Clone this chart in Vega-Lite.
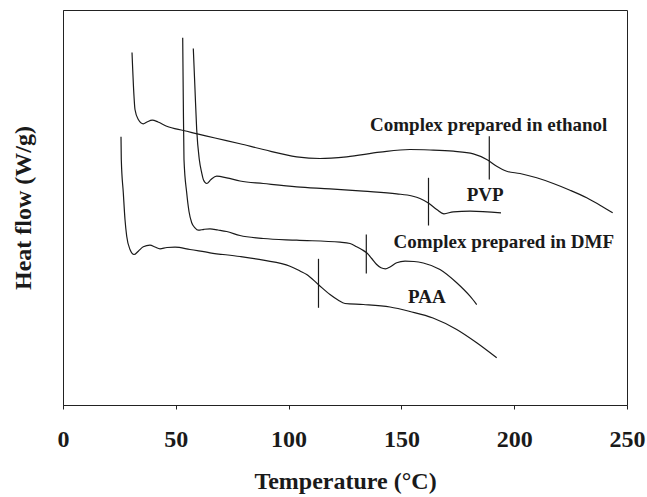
{
  "$schema": "https://vega.github.io/schema/vega-lite/v6.json",
  "width": 564,
  "height": 395,
  "autosize": {"type": "none"},
  "padding": {"left": 63, "top": 10, "right": 20, "bottom": 92},
  "background": "white",
  "config": {
    "view": {"stroke": "#222", "strokeWidth": 1},
    "font": "Liberation Serif"
  },
  "datasets": {
    "curves": [
      {"series": "ethanol", "T": 30.59, "HF": 89.24},
      {"series": "ethanol", "T": 31.47, "HF": 78.18},
      {"series": "ethanol", "T": 31.91, "HF": 74.81},
      {"series": "ethanol", "T": 33.38, "HF": 72.28},
      {"series": "ethanol", "T": 35.59, "HF": 71.19},
      {"series": "ethanol", "T": 37.23, "HF": 71.65},
      {"series": "ethanol", "T": 39.58, "HF": 72.10},
      {"series": "ethanol", "T": 42.11, "HF": 71.65},
      {"series": "ethanol", "T": 45.97, "HF": 70.58},
      {"series": "ethanol", "T": 53.32, "HF": 69.49},
      {"series": "ethanol", "T": 59.53, "HF": 68.66},
      {"series": "ethanol", "T": 67.38, "HF": 67.59},
      {"series": "ethanol", "T": 78.46, "HF": 66.13},
      {"series": "ethanol", "T": 88.79, "HF": 64.68},
      {"series": "ethanol", "T": 103.59, "HF": 62.84},
      {"series": "ethanol", "T": 113.92, "HF": 62.41},
      {"series": "ethanol", "T": 125.75, "HF": 62.84},
      {"series": "ethanol", "T": 140.51, "HF": 64.0},
      {"series": "ethanol", "T": 153.81, "HF": 64.68},
      {"series": "ethanol", "T": 162.68, "HF": 64.56},
      {"series": "ethanol", "T": 173.01, "HF": 64.25},
      {"series": "ethanol", "T": 181.87, "HF": 63.59},
      {"series": "ethanol", "T": 187.81, "HF": 62.15},
      {"series": "ethanol", "T": 192.24, "HF": 60.46},
      {"series": "ethanol", "T": 196.68, "HF": 59.19},
      {"series": "ethanol", "T": 202.57, "HF": 58.61},
      {"series": "ethanol", "T": 209.97, "HF": 57.52},
      {"series": "ethanol", "T": 217.33, "HF": 56.08},
      {"series": "ethanol", "T": 224.73, "HF": 54.38},
      {"series": "ethanol", "T": 232.14, "HF": 52.46},
      {"series": "ethanol", "T": 238.79, "HF": 50.33},
      {"series": "ethanol", "T": 243.66, "HF": 48.66},

      {"series": "PVP", "T": 57.76, "HF": 90.25},
      {"series": "PVP", "T": 58.51, "HF": 79.87},
      {"series": "PVP", "T": 59.26, "HF": 69.75},
      {"series": "PVP", "T": 60.42, "HF": 62.15},
      {"series": "PVP", "T": 61.48, "HF": 58.78},
      {"series": "PVP", "T": 62.28, "HF": 56.96},
      {"series": "PVP", "T": 63.70, "HF": 56.08},
      {"series": "PVP", "T": 65.60, "HF": 57.09},
      {"series": "PVP", "T": 68.13, "HF": 57.92},
      {"series": "PVP", "T": 72.56, "HF": 57.52},
      {"series": "PVP", "T": 78.46, "HF": 56.71},
      {"series": "PVP", "T": 88.79, "HF": 56.08},
      {"series": "PVP", "T": 103.59, "HF": 55.24},
      {"series": "PVP", "T": 118.35, "HF": 54.73},
      {"series": "PVP", "T": 133.11, "HF": 54.13},
      {"series": "PVP", "T": 147.92, "HF": 53.47},
      {"series": "PVP", "T": 154.70, "HF": 52.91},
      {"series": "PVP", "T": 158.24, "HF": 52.28},
      {"series": "PVP", "T": 161.92, "HF": 51.14},
      {"series": "PVP", "T": 165.65, "HF": 49.49},
      {"series": "PVP", "T": 168.88, "HF": 48.41},
      {"series": "PVP", "T": 173.01, "HF": 48.91},
      {"series": "PVP", "T": 180.41, "HF": 49.06},
      {"series": "PVP", "T": 194.15, "HF": 48.66},

      {"series": "DMF", "T": 53.06, "HF": 92.96},
      {"series": "DMF", "T": 53.32, "HF": 77.34},
      {"series": "DMF", "T": 53.63, "HF": 62.15},
      {"series": "DMF", "T": 54.83, "HF": 53.72},
      {"series": "DMF", "T": 55.85, "HF": 48.99},
      {"series": "DMF", "T": 57.05, "HF": 46.13},
      {"series": "DMF", "T": 58.51, "HF": 44.86},
      {"series": "DMF", "T": 59.97, "HF": 44.25},
      {"series": "DMF", "T": 62.50, "HF": 44.48},
      {"series": "DMF", "T": 65.16, "HF": 44.61},
      {"series": "DMF", "T": 68.71, "HF": 44.30},
      {"series": "DMF", "T": 72.56, "HF": 43.92},
      {"series": "DMF", "T": 78.46, "HF": 42.91},
      {"series": "DMF", "T": 88.79, "HF": 42.15},
      {"series": "DMF", "T": 103.59, "HF": 41.72},
      {"series": "DMF", "T": 122.78, "HF": 41.22},
      {"series": "DMF", "T": 127.22, "HF": 40.89},
      {"series": "DMF", "T": 130.19, "HF": 40.05},
      {"series": "DMF", "T": 132.40, "HF": 39.37},
      {"series": "DMF", "T": 134.62, "HF": 38.53},
      {"series": "DMF", "T": 136.84, "HF": 37.09},
      {"series": "DMF", "T": 139.05, "HF": 35.57},
      {"series": "DMF", "T": 140.96, "HF": 34.73},
      {"series": "DMF", "T": 142.95, "HF": 34.48},
      {"series": "DMF", "T": 144.95, "HF": 34.94},
      {"series": "DMF", "T": 147.92, "HF": 36.0},
      {"series": "DMF", "T": 151.60, "HF": 36.41},
      {"series": "DMF", "T": 155.59, "HF": 36.33},
      {"series": "DMF", "T": 159.71, "HF": 35.95},
      {"series": "DMF", "T": 167.11, "HF": 34.30},
      {"series": "DMF", "T": 174.51, "HF": 30.94},
      {"series": "DMF", "T": 180.41, "HF": 27.54},
      {"series": "DMF", "T": 183.38, "HF": 25.44},

      {"series": "PAA", "T": 25.71, "HF": 67.90},
      {"series": "PAA", "T": 25.84, "HF": 62.15},
      {"series": "PAA", "T": 26.73, "HF": 53.72},
      {"series": "PAA", "T": 27.48, "HF": 46.96},
      {"series": "PAA", "T": 28.24, "HF": 42.73},
      {"series": "PAA", "T": 29.70, "HF": 39.37},
      {"series": "PAA", "T": 31.47, "HF": 38.10},
      {"series": "PAA", "T": 33.38, "HF": 38.94},
      {"series": "PAA", "T": 35.59, "HF": 40.05},
      {"series": "PAA", "T": 38.56, "HF": 40.46},
      {"series": "PAA", "T": 40.78, "HF": 40.0},
      {"series": "PAA", "T": 43.0, "HF": 39.54},
      {"series": "PAA", "T": 46.10, "HF": 39.87},
      {"series": "PAA", "T": 49.65, "HF": 39.95},
      {"series": "PAA", "T": 56.29, "HF": 39.37},
      {"series": "PAA", "T": 65.16, "HF": 38.53},
      {"series": "PAA", "T": 78.46, "HF": 37.59},
      {"series": "PAA", "T": 88.79, "HF": 36.66},
      {"series": "PAA", "T": 100.62, "HF": 35.14},
      {"series": "PAA", "T": 105.05, "HF": 33.92},
      {"series": "PAA", "T": 108.02, "HF": 33.04},
      {"series": "PAA", "T": 113.16, "HF": 30.51},
      {"series": "PAA", "T": 118.35, "HF": 27.97},
      {"series": "PAA", "T": 121.90, "HF": 26.58},
      {"series": "PAA", "T": 125.0, "HF": 25.70},
      {"series": "PAA", "T": 133.11, "HF": 25.44},
      {"series": "PAA", "T": 144.95, "HF": 24.81},
      {"series": "PAA", "T": 153.81, "HF": 23.67},
      {"series": "PAA", "T": 164.01, "HF": 22.03},
      {"series": "PAA", "T": 174.51, "HF": 19.11},
      {"series": "PAA", "T": 183.38, "HF": 15.75},
      {"series": "PAA", "T": 192.24, "HF": 11.95}
    ],
    "markers": [
      {"series": "ethanol", "T": 188.96, "top": 68.05, "bottom": 57.09},
      {"series": "PVP", "T": 162.01, "top": 57.52, "bottom": 45.44},
      {"series": "DMF", "T": 134.44, "top": 43.16, "bottom": 33.29},
      {"series": "PAA", "T": 113.25, "top": 37.01, "bottom": 24.61}
    ],
    "labels": [
      {"label": "Complex prepared in ethanol", "T": 188.7, "HF": 69.37},
      {"label": "PVP", "T": 187.1, "HF": 51.77},
      {"label": "Complex prepared in DMF", "T": 195.4, "HF": 39.80},
      {"label": "PAA", "T": 161.3, "HF": 25.70}
    ]
  },
  "layer": [
    {
      "data": {"name": "curves"},
      "mark": {"type": "line", "interpolate": "monotone", "color": "#1a1a1a", "strokeWidth": 1.2},
      "encoding": {
        "x": {
          "field": "T", "type": "quantitative",
          "scale": {"domain": [0, 250], "nice": false},
          "axis": {
            "values": [0, 50, 100, 150, 200, 250],
            "title": "Temperature (°C)",
            "grid": false,
            "domainColor": "#222",
            "domainWidth": 1.2,
            "tickColor": "#222",
            "tickSize": 4,
            "labelPadding": 18,
            "labelFont": "Liberation Serif",
            "labelFontWeight": "bold",
            "labelFontSize": 24,
            "labelColor": "#1a1a1a",
            "labelFlush": false,
            "titleFont": "Liberation Serif",
            "titleFontWeight": "bold",
            "titleFontSize": 24,
            "titleColor": "#1a1a1a",
            "titleBaseline": "alphabetic",
            "titleY": 83
          }
        },
        "y": {
          "field": "HF", "type": "quantitative",
          "scale": {"domain": [0, 100], "nice": false},
          "axis": {
            "title": "Heat flow (W/g)",
            "labels": false,
            "ticks": false,
            "grid": false,
            "domainColor": "#222",
            "titleFont": "Liberation Serif",
            "titleFontWeight": "bold",
            "titleFontSize": 24,
            "titleColor": "#1a1a1a",
            "titleAngle": -90,
            "titleBaseline": "middle",
            "titleAlign": "center",
            "titleX": -40,
            "titleY": 197.5
          }
        },
        "detail": {"field": "series"}
      }
    },
    {
      "data": {"name": "markers"},
      "mark": {"type": "rule", "color": "#1a1a1a", "strokeWidth": 1.2},
      "encoding": {
        "x": {"field": "T", "type": "quantitative"},
        "y": {"field": "top", "type": "quantitative"},
        "y2": {"field": "bottom"}
      }
    },
    {
      "data": {"name": "labels"},
      "mark": {"type": "text", "font": "Liberation Serif", "fontWeight": "bold", "fontSize": 19, "color": "#1a1a1a", "align": "center", "baseline": "alphabetic"},
      "encoding": {
        "x": {"field": "T", "type": "quantitative"},
        "y": {"field": "HF", "type": "quantitative"},
        "text": {"field": "label"}
      }
    }
  ]
}
